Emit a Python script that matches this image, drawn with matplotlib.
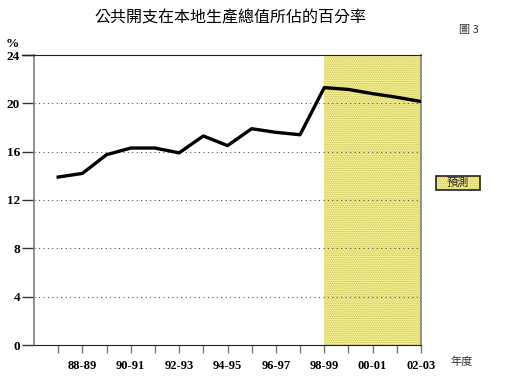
import matplotlib.pyplot as plt
from matplotlib.patches import Rectangle

# datos
anios = ['87-88', '88-89', '89-90', '90-91', '91-92', '92-93', '93-94', '94-95',
         '95-96', '96-97', '97-98', '98-99', '99-00', '00-01', '01-02', '02-03']
porcentaje = [13.9, 14.2, 15.75, 16.3, 16.3, 15.9, 17.3, 16.5,
              17.9, 17.6, 17.4, 21.3, 21.15, 20.8, 20.5, 20.15]
inicio_prevision = '98-99'
yticks = [0, 4, 8, 12, 16, 20, 24]

plt.rcParams['font.family'] = ['Liberation Serif', 'Noto Sans CJK TC']
plt.rcParams['hatch.linewidth'] = 0.6

amarillo = '#f8f38c'
puntos = '#c4bc6c'

fig = plt.figure(figsize=(5.08, 3.86), dpi=100)
ax = fig.add_axes([34/508, 1 - 345/386, (421 - 34)/508, (345 - 55)/386])

x = list(range(1, len(anios) + 1))
i0 = anios.index(inicio_prevision) + 1

# zona de prevision
ax.axvspan(i0, len(anios), facecolor=amarillo, edgecolor=puntos,
           hatch='.........', linewidth=0, zorder=0)

for v in yticks[1:-1]:
    ax.axhline(v, color='#555555', linestyle=(0, (1, 3)), linewidth=0.8, zorder=1)

ax.plot(x, porcentaje, color='black', linewidth=2.4, zorder=3)

ax.set_xlim(0, len(anios))
ax.set_ylim(0, 24)

ax.set_yticks(yticks)
ax.set_yticklabels([str(v) for v in yticks], fontweight='bold', fontsize=9.5)
ax.tick_params(axis='y', length=9, width=1, color='#333333', pad=1)

ax.set_xticks(x)
ax.set_xticklabels([a if i % 2 == 1 else '' for i, a in enumerate(anios)],
                   fontweight='bold', fontsize=9)
ax.tick_params(axis='x', length=6, width=1, color='#777777', pad=5)

ax.spines['left'].set_color('#808080')
ax.spines['right'].set_color('#808080')
ax.spines['left'].set_linewidth(1.2)
ax.spines['right'].set_linewidth(1.2)
ax.spines['top'].set_color('#222222')
ax.spines['bottom'].set_color('#222222')

# linea del 24 que sale hacia la izquierda
fig.add_artist(plt.Line2D([22/508, 34/508], [1 - 55/386, 1 - 55/386], color='#222222', linewidth=1))

fig.text(230/508, 1 - 18/386, '公共開支在本地生產總值所佔的百分率', ha='center', va='center',
         fontsize=11.5, family=['Noto Sans CJK TC'])
fig.text(469/508, 1 - 30/386, '圖 3', ha='center', va='center', fontsize=8,
         family=['Noto Sans CJK TC', 'Liberation Serif'], color='#333333')
fig.text(12/508, 1 - 44/386, '%', ha='center', va='center', fontsize=9.5, fontweight='bold')
fig.text(462/508, 1 - 362/386, '年度', ha='center', va='center', fontsize=8,
         family=['Noto Sans CJK TC'], color='#333333')

# leyenda
fig.add_artist(Rectangle((436/508, 1 - 190/386), 44/508, 14/386, transform=fig.transFigure,
                         facecolor=amarillo, edgecolor=puntos, hatch='.........', linewidth=0,
                         zorder=1))
fig.add_artist(Rectangle((436/508, 1 - 190/386), 44/508, 14/386, transform=fig.transFigure,
                         facecolor='none', edgecolor='#222222', linewidth=1.2, zorder=2))
fig.text(458/508, 1 - 183/386, '預測', ha='center', va='center', fontsize=8,
         family=['Noto Sans CJK TC'], color='#222222', zorder=5)

fig.savefig('out.png', dpi=100)
